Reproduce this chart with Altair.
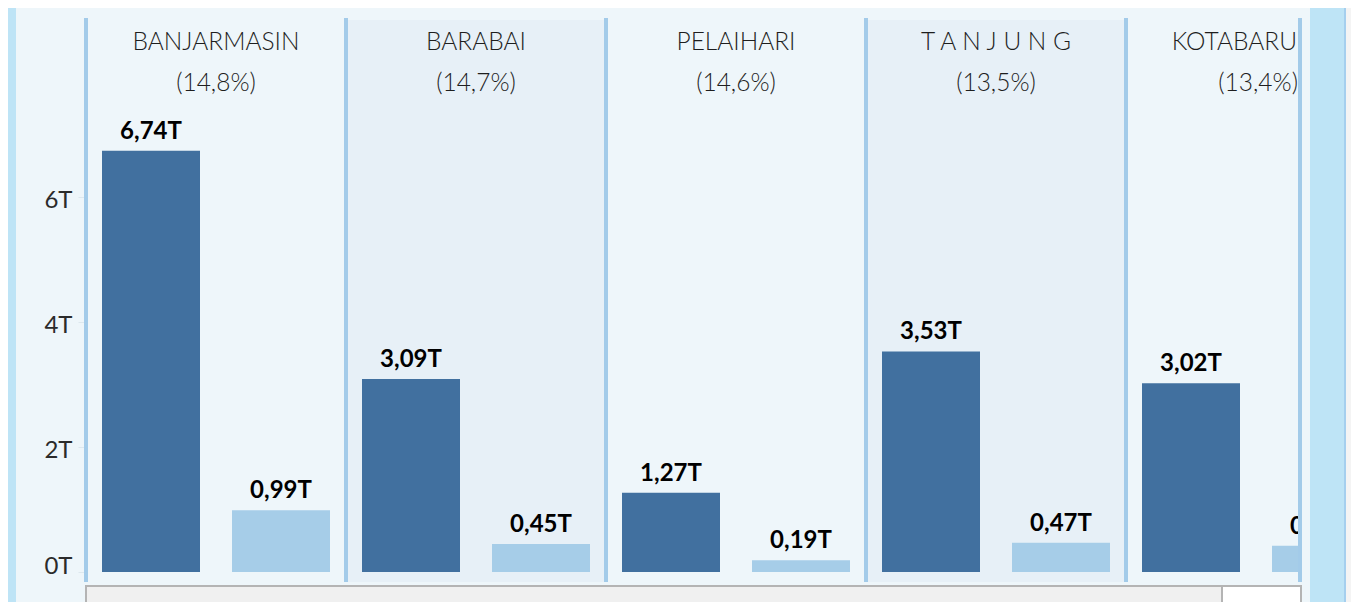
import altair as alt
import pandas as pd

regions = ["BANJARMASIN", "BARABAI", "PELAIHARI", "T A N J U N G", "KOTABARU"]
shares = [14.8, 14.7, 14.6, 13.5, 13.4]
series_names = ["Pagu", "Realisasi"]
pagu = [6.74, 3.09, 1.27, 3.53, 3.02]
realisasi = [0.99, 0.45, 0.19, 0.47, 0.42]
y_ticks = [0, 2, 4, 6]

rows = []
for i, r in enumerate(regions):
    rows.append({"region": r, "series": series_names[0], "value": pagu[i], "idx": i})
    rows.append({"region": r, "series": series_names[1], "value": realisasi[i], "idx": i})
bars_df = pd.DataFrame(rows)
panels_df = pd.DataFrame({"region": regions, "share": shares, "idx": list(range(len(regions)))})

W, H = 1214, 564
FONT = "Lato"
DARK = "#41709f"
LIGHT = "#a6cde8"
DIV = "#a3cbe9"

x_enc = alt.X("region:N", sort=regions, axis=None,
              scale=alt.Scale(type="band", range=[0, 1300], paddingInner=0, paddingOuter=0))
xoff_enc = alt.XOffset("series:N", sort=series_names,
                       scale=alt.Scale(paddingInner=0.24615, paddingOuter=0.12308))
y_enc = alt.Y("value:Q",
              scale=alt.Scale(domain=[-0.16, 8.864], nice=False, zero=False),
              axis=alt.Axis(values=y_ticks, labelExpr="datum.value + 'T'", title=None,
                            domain=False, grid=False, tickColor="#dde8ee", tickSize=8,
                            labelPadding=6, labelFontSize=24, labelColor="#2b2b2b",
                            labelFont=FONT, labelFontWeight="normal",
                            labelOffset=alt.condition("datum.value == 0", alt.value(-6), alt.value(3))))

panels = alt.Chart(panels_df)
bars_base = alt.Chart(bars_df)

bg = panels.transform_filter("datum.idx % 2 == 1").mark_rect(color="#e7f0f7").encode(
    x=x_enc, y=alt.value(2), y2=alt.value(H))

dividers = panels.mark_rule(color=DIV, strokeWidth=4).encode(
    x=alt.X("region:N", sort=regions, bandPosition=0, axis=None,
            scale=alt.Scale(type="band", range=[0, 1300], paddingInner=0, paddingOuter=0)),
    y=alt.value(0), y2=alt.value(H))

right_edge = alt.Chart(alt.Data(values=[{}])).mark_rule(color=DIV, strokeWidth=4).encode(
    x=alt.value(W), y=alt.value(0), y2=alt.value(H))

bars = bars_base.mark_bar(clip=True).encode(
    x=x_enc, xOffset=xoff_enc, y=y_enc, y2=alt.datum(0),
    color=alt.Color("series:N", scale=alt.Scale(domain=series_names, range=[DARK, LIGHT]), legend=None))

labels = bars_base.transform_calculate(
    lab="replace(format(datum.value, '.2f'), '.', ',') + 'T'"
).mark_text(clip=True, dy=-12, baseline="alphabetic", font=FONT, fontWeight="bold",
            fontSize=24, color="#000000").encode(
    x=x_enc, xOffset=xoff_enc, y=y_enc, text="lab:N")

share_calc = "'(' + replace(format(datum.share, '.1f'), '.', ',') + '%)'"
head_style = dict(font=FONT, fontSize=24.5, fontWeight=300, color="#1e1e1e", baseline="alphabetic")

names_c = panels.transform_filter("datum.idx < 4").mark_text(align="center", **head_style).encode(
    x=x_enc, y=alt.value(32), text="region:N")
shares_c = panels.transform_filter("datum.idx < 4").transform_calculate(s=share_calc).mark_text(
    align="center", **head_style).encode(x=x_enc, y=alt.value(73), text="s:N")
names_r = panels.transform_filter("datum.idx == 4").mark_text(align="right", **head_style).encode(
    x=alt.value(W - 3), y=alt.value(32), text="region:N")
shares_r = panels.transform_filter("datum.idx == 4").transform_calculate(s=share_calc).mark_text(
    align="right", **head_style).encode(x=alt.value(W - 2), y=alt.value(73), text="s:N")

one = alt.Data(values=[{}])
left_strip = alt.Chart(one).mark_rect(color="#bee4f6").encode(
    x=alt.value(-78), x2=alt.value(-70), y=alt.value(-10), y2=alt.value(H + 30))
right_strip = alt.Chart(one).mark_rect(color="#bee4f6").encode(
    x=alt.value(W + 10), x2=alt.value(W + 44), y=alt.value(-10), y2=alt.value(H + 30))
right_line = alt.Chart(one).mark_rect(color="#a5cfee").encode(
    x=alt.value(W + 44), x2=alt.value(W + 46), y=alt.value(-10), y2=alt.value(H + 30))
right_grey = alt.Chart(one).mark_rect(color="#f4f4f4").encode(
    x=alt.value(W + 46), x2=alt.value(W + 60), y=alt.value(-10), y2=alt.value(H + 30))
box = alt.Chart(one).mark_rect(color="#f0f0f0", stroke="#b4b4b4", strokeWidth=2).encode(
    x=alt.value(0), x2=alt.value(W + 1), y=alt.value(H + 4), y2=alt.value(H + 40))
white_sq = alt.Chart(one).mark_rect(color="#ffffff", stroke="#b4b4b4", strokeWidth=2).encode(
    x=alt.value(W - 78), x2=alt.value(W + 1), y=alt.value(H + 4), y2=alt.value(H + 40))

chart = alt.layer(
    left_strip, right_strip, right_line, right_grey, box, white_sq,
    bg, bars, labels, dividers, right_edge, names_c, shares_c, names_r, shares_r
).properties(
    width=W, height=H, background="#eef6fa",
    padding={"left": 78, "top": 10, "right": 51, "bottom": 20},
    autosize=alt.AutoSizeParams(type="none")
).configure_view(strokeWidth=0)

chart.save("out.html", embed_options={"renderer": "svg", "actions": False})
